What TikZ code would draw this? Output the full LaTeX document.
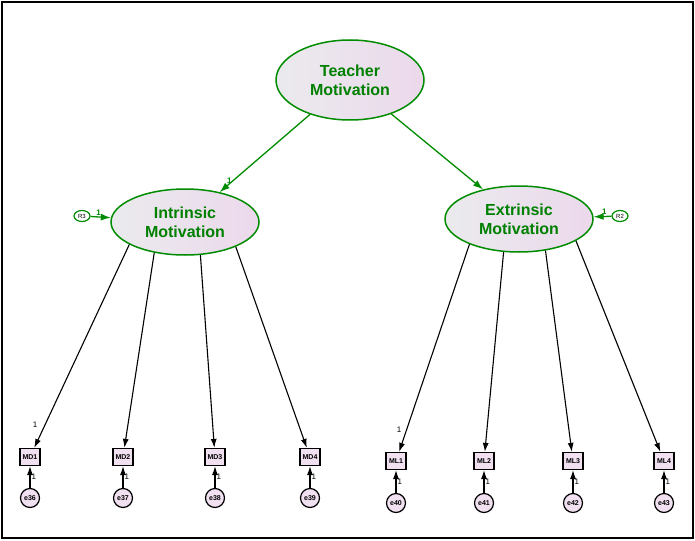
\documentclass[tikz,border=0pt]{standalone}
\usepackage{fontspec}
\setmainfont{Liberation Sans}
\usetikzlibrary{shapes.geometric,arrows.meta}
\begin{document}
\begin{tikzpicture}[x=1pt,y=-1pt,
 lat/.style={ellipse,draw=green!55!black,line width=1.5pt,left color=blue!8!gray!15,right color=violet!15,text=green!50!black,font=\bfseries\fontsize{16}{19}\selectfont,align=center,inner sep=0pt},
 obs/.style={draw,line width=1.2pt,fill=violet!12,minimum width=20pt,minimum height=17pt,inner sep=0pt,font=\bfseries\fontsize{7}{8}\selectfont},
 err/.style={circle,draw,line width=1.2pt,fill=violet!12,minimum size=19pt,inner sep=0pt,font=\bfseries\fontsize{7}{8}\selectfont},
 res/.style={ellipse,draw=green!55!black,line width=1.2pt,fill=white,minimum width=16pt,minimum height=11pt,inner sep=0pt,font=\fontsize{6}{7}\selectfont},
 garr/.style={-{Latex[length=10pt,width=7pt]},green!55!black,line width=1.3pt},
 barr/.style={-{Latex[length=9pt,width=6pt]},black,line width=1.1pt},
 lab/.style={font=\fontsize{8}{9}\selectfont,inner sep=1pt}]
\useasboundingbox (0,0) rectangle (695,540);
\draw[line width=2.5pt] (2,2) rectangle (693,538);
\node[lat,minimum width=148pt,minimum height=80pt] (T) at (350,80) {Teacher\\Motivation};
\node[lat,minimum width=148pt,minimum height=66pt] (I) at (185,222) {Intrinsic\\Motivation};
\node[lat,minimum width=148pt,minimum height=66pt] (E) at (519,219) {Extrinsic\\Motivation};
\node[res] (R3) at (82,216) {R3};
\node[res] (R2) at (620,216) {R2};
\draw[garr] (R3) -- (I) node[pos=0.4,above,lab,text=green!50!black]{\textbf{1}};
\draw[garr] (R2) -- (E) node[pos=0.4,above,lab,text=green!50!black]{\textbf{1}};
\draw[garr] (T) -- (I) node[pos=0.85,left,lab,text=green!50!black]{\textbf{1}};
\draw[garr] (T) -- (E);
\foreach \n/\x/\a in {1/30/-158,2/123/-135,3/215/-65,4/310/-26}{
 \node[obs] (MD\n) at (\x,457) {MD\n};
 \node[err] (e\n) at (\x,498) {\pgfmathtruncatemacro\k{35+\n}e\k};
 \draw[barr] (e\n) -- (MD\n) node[pos=0.5,right,lab]{1};
 \draw[barr] (I.\a) -- (MD\n);
}
\foreach \n/\x/\a in {1/396/-153,2/484/-115,3/573/-50,4/664/-21}{
 \node[obs] (ML\n) at (\x,461) {ML\n};
 \node[err] (f\n) at (\x,503) {\pgfmathtruncatemacro\k{39+\n}e\k};
 \draw[barr] (f\n) -- (ML\n) node[pos=0.5,right,lab]{1};
 \draw[barr] (E.\a) -- (ML\n);
}
\node[lab] at (35,425) {1};
\node[lab] at (399,430) {1};
\end{tikzpicture}
\end{document}
